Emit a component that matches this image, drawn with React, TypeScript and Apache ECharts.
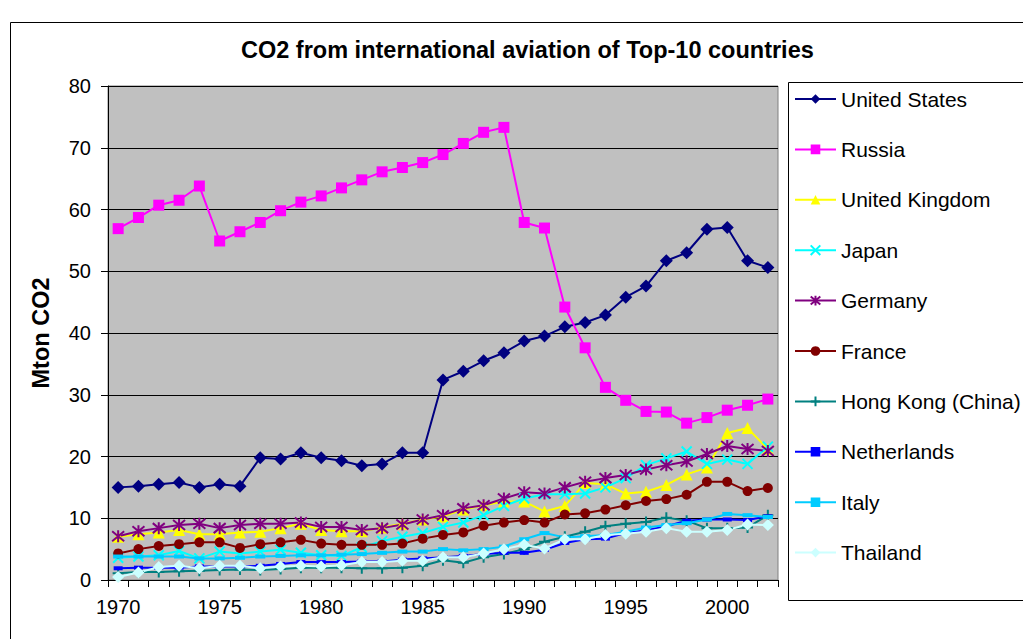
import React, { useEffect, useRef } from "react";
import * as echarts from "echarts";

const years = [
  "1970","1971","1972","1973","1974","1975","1976","1977","1978","1979",
  "1980","1981","1982","1983","1984","1985","1986","1987","1988","1989",
  "1990","1991","1992","1993","1994","1995","1996","1997","1998","1999",
  "2000","2001","2002",
];

const unitedStates = [15.0, 15.2, 15.5, 15.8, 15.0, 15.5, 15.2, 19.8, 19.6, 20.6, 19.8, 19.3, 18.5, 18.8, 20.6, 20.6, 32.4, 33.8, 35.5, 36.8, 38.7, 39.5, 41.0, 41.7, 42.9, 45.8, 47.6, 51.7, 53.0, 56.8, 57.1, 51.7, 50.6];
const russia = [56.9, 58.7, 60.7, 61.5, 63.8, 54.9, 56.4, 57.9, 59.8, 61.2, 62.2, 63.5, 64.8, 66.1, 66.8, 67.6, 68.9, 70.7, 72.5, 73.3, 57.9, 57.0, 44.2, 37.6, 31.2, 29.1, 27.3, 27.2, 25.4, 26.3, 27.5, 28.3, 29.3];
const unitedKingdom = [7.0, 7.4, 7.7, 8.1, 7.4, 7.4, 7.7, 7.8, 8.4, 9.1, 8.1, 7.9, 7.9, 8.5, 9.1, 9.8, 10.3, 11.4, 12.1, 12.7, 12.7, 11.1, 12.0, 15.7, 15.5, 14.0, 14.3, 15.4, 17.1, 18.2, 23.8, 24.6, 21.2];
const japan = [3.6, 3.8, 4.0, 4.7, 3.5, 4.6, 4.3, 4.6, 4.9, 4.4, 4.0, 3.9, 5.3, 6.3, 7.0, 7.6, 8.6, 9.3, 10.5, 12.0, 13.2, 13.9, 13.9, 14.0, 15.0, 16.5, 18.6, 19.7, 20.8, 18.8, 19.5, 18.8, 21.6];
const germany = [7.1, 7.9, 8.4, 8.9, 9.1, 8.4, 8.9, 9.1, 9.1, 9.3, 8.6, 8.6, 8.1, 8.4, 9.0, 9.8, 10.5, 11.6, 12.1, 13.2, 14.2, 14.0, 15.0, 15.9, 16.5, 17.0, 17.9, 18.6, 19.2, 20.4, 21.7, 21.2, 20.9];
const france = [4.3, 5.0, 5.5, 5.8, 6.1, 6.1, 5.2, 5.8, 6.1, 6.5, 5.9, 5.7, 5.7, 5.7, 5.9, 6.7, 7.3, 7.7, 8.8, 9.3, 9.7, 9.3, 10.6, 10.8, 11.4, 12.1, 12.8, 13.1, 13.8, 15.9, 15.9, 14.4, 14.9];
const hongKong = [1.1, 1.3, 1.3, 1.4, 1.5, 1.6, 1.7, 1.6, 1.8, 2.0, 2.0, 2.0, 1.9, 1.9, 2.0, 2.3, 3.2, 2.8, 3.7, 4.2, 5.0, 6.2, 7.0, 7.8, 8.7, 9.1, 9.4, 10.1, 9.6, 8.4, 8.4, 8.5, 10.5];
const netherlands = [1.9, 2.0, 2.0, 2.0, 2.2, 2.2, 2.2, 2.3, 2.6, 2.9, 2.9, 2.9, 3.0, 3.0, 3.3, 3.5, 3.7, 3.9, 4.2, 4.4, 4.4, 4.9, 6.0, 6.6, 6.7, 7.6, 8.0, 8.7, 9.6, 9.8, 9.8, 9.7, 10.3];
const italy = [3.8, 3.8, 3.8, 3.8, 3.5, 3.5, 3.6, 3.8, 3.9, 4.0, 4.0, 4.1, 4.2, 4.4, 4.6, 4.6, 5.0, 4.8, 5.0, 5.4, 6.6, 7.6, 6.9, 7.1, 7.3, 7.8, 8.5, 8.9, 9.2, 9.8, 10.7, 10.5, 10.2];
const thailand = [0.5, 1.2, 2.1, 2.3, 1.9, 2.3, 2.3, 1.9, 2.2, 2.3, 2.2, 2.4, 2.9, 2.9, 3.1, 3.1, 3.7, 3.7, 4.3, 5.0, 5.7, 5.1, 6.6, 6.6, 7.3, 7.5, 7.8, 8.4, 7.8, 7.8, 8.1, 9.0, 8.9];

const yTicks = [0, 10, 20, 30, 40, 50, 60, 70, 80];

const FONT = "'Liberation Sans', Arial, sans-serif";

const X_PATH = "path://M0,0L10,10M10,0L0,10";
const STAR_PATH = "path://M0,0L10,10M10,0L0,10M5,-1L5,11";
const PLUS_PATH = "path://M5,0L5,10M0,5L10,5";

type SeriesDef = {
  name: string;
  data: number[];
  color: string;
  symbol: string;
  size: number | number[];
  stroke?: boolean;
};

const seriesDefs: SeriesDef[] = [
  { name: "United States", data: unitedStates, color: "#000080", symbol: "diamond", size: 13 },
  { name: "Russia", data: russia, color: "#FF00FF", symbol: "rect", size: 11 },
  { name: "United Kingdom", data: unitedKingdom, color: "#FFFF00", symbol: "triangle", size: 12 },
  { name: "Japan", data: japan, color: "#00FFFF", symbol: X_PATH, size: 10, stroke: true },
  { name: "Germany", data: germany, color: "#800080", symbol: STAR_PATH, size: 12, stroke: true },
  { name: "France", data: france, color: "#800000", symbol: "circle", size: 10 },
  { name: "Hong Kong (China)", data: hongKong, color: "#008080", symbol: PLUS_PATH, size: 11, stroke: true },
  { name: "Netherlands", data: netherlands, color: "#0000FF", symbol: "rect", size: [9, 4] },
  { name: "Italy", data: italy, color: "#00CCFF", symbol: "rect", size: [10, 4] },
  { name: "Thailand", data: thailand, color: "#CCFFFF", symbol: "diamond", size: 12 },
];

export default function App() {
  const ref = useRef<HTMLDivElement>(null);

  useEffect(() => {
    if (!ref.current) return;
    const chart = echarts.init(ref.current, null, { renderer: "svg" });

    const option: any = {
      animation: false,
      backgroundColor: "#ffffff",
      textStyle: { fontFamily: FONT, color: "#000" },
      title: {
        text: "CO2 from international aviation of Top-10 countries",
        left: 236,
        top: 33,
        textStyle: { fontFamily: FONT, fontSize: 23.5, fontWeight: "bold", color: "#000" },
      },
      graphic: [
        {
          type: "rect",
          z: 0,
          shape: { x: 10.5, y: 22.5, width: 1100, height: 700 },
          style: { fill: "none", stroke: "#000", lineWidth: 1 },
          silent: true,
        },
        {
          type: "rect",
          z: 0,
          shape: { x: 788.5, y: 82.5, width: 300, height: 518 },
          style: { fill: "#fff", stroke: "#000", lineWidth: 1 },
          silent: true,
        },
      ],
      legend: {
        orient: "vertical",
        left: 794,
        top: 87,
        itemWidth: 41,
        itemHeight: 12,
        itemGap: 26.4,
        padding: 0,
        data: seriesDefs.map((s) => s.name),
        textStyle: { fontFamily: FONT, fontSize: 21, color: "#000", lineHeight: 24 },
      },
      grid: {
        left: 108,
        top: 86,
        right: 245,
        bottom: 59,
        show: true,
        backgroundColor: "#C0C0C0",
        borderColor: "#808080",
        borderWidth: 1,
      },
      xAxis: {
        type: "category",
        data: years,
        boundaryGap: true,
        axisLine: { lineStyle: { color: "#000", width: 1 } },
        axisTick: { show: true, interval: 0, length: 7, lineStyle: { color: "#000" } },
        axisLabel: { interval: 4, margin: 17, fontSize: 20, color: "#000", fontFamily: FONT },
        splitLine: { show: false },
      },
      yAxis: {
        type: "value",
        min: yTicks[0],
        max: yTicks[yTicks.length - 1],
        interval: 10,
        name: "Mton CO2",
        nameLocation: "middle",
        nameRotate: 90,
        nameGap: 55,
        nameTextStyle: { fontFamily: FONT, fontSize: 23.5, fontWeight: "bold", color: "#000" },
        axisLine: { show: true, lineStyle: { color: "#000", width: 1 } },
        axisTick: { show: true, length: 7, lineStyle: { color: "#000" } },
        axisLabel: { margin: 17, fontSize: 20, color: "#000", fontFamily: FONT },
        splitLine: { show: true, lineStyle: { color: "#000", width: 1 } },
      },
      series: seriesDefs.map((s) => ({
        name: s.name,
        type: "line",
        data: s.data,
        symbol: s.symbol,
        symbolSize: s.size,
        showAllSymbol: true,
        color: s.color,
        lineStyle: { color: s.color, width: 2 },
        itemStyle: s.stroke
          ? { color: s.color, borderColor: s.color, borderWidth: 2 }
          : { color: s.color, borderWidth: 0 },
        emphasis: { disabled: true },
      })),
    };

    chart.setOption(option);
    return () => chart.dispose();
  }, []);

  return (
    <div
      ref={ref}
      style={{ position: "fixed", left: 0, top: 0, width: 1023, height: 639 }}
    />
  );
}
